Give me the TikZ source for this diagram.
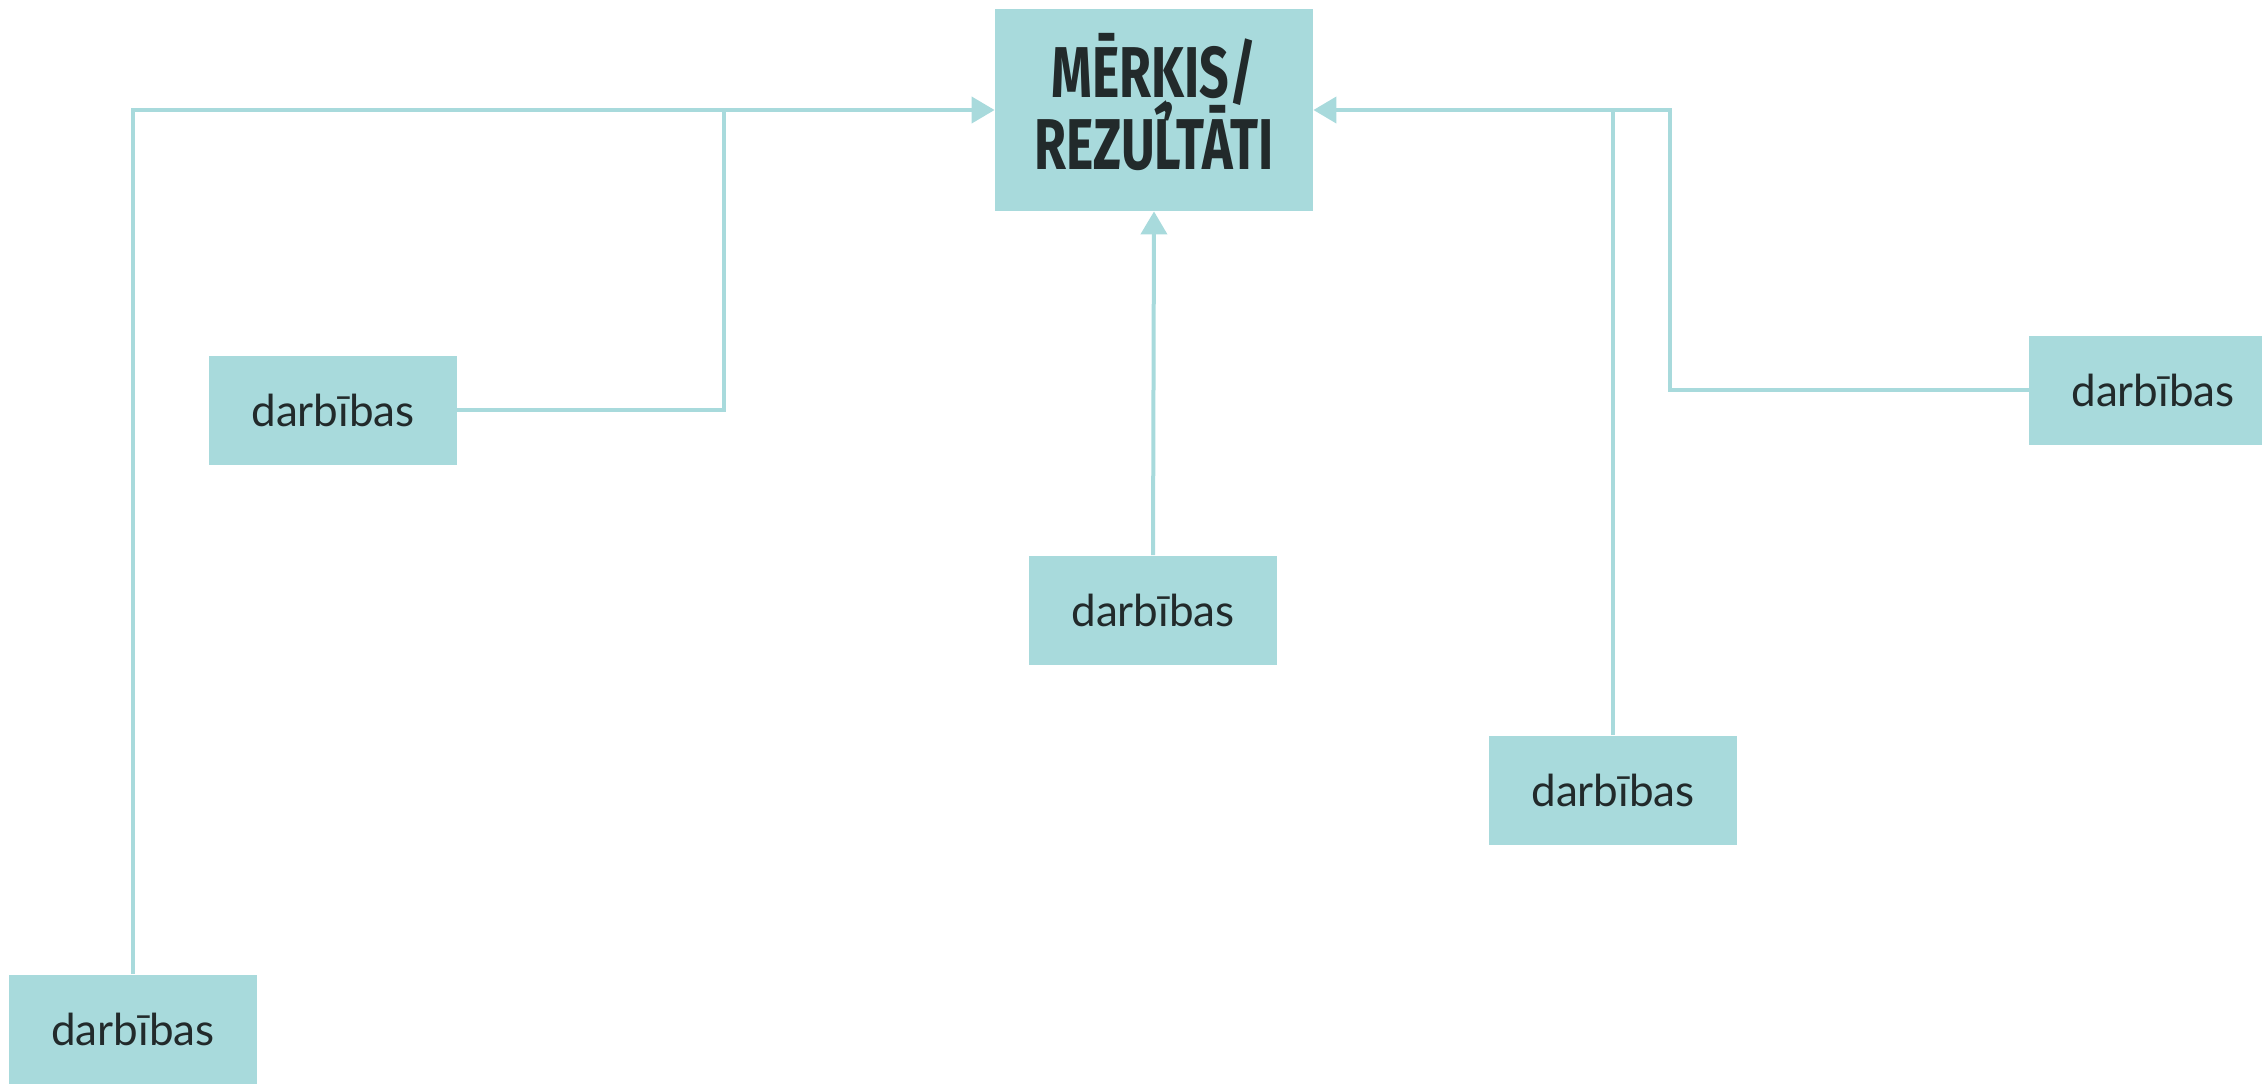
\documentclass[tikz,border=0pt]{standalone}
\usepackage{fontspec}
\usepackage{tikz}
\usetikzlibrary{arrows.meta}
\setmainfont{Lato}
\newfontfamily\goalfont[FakeStretch=0.72]{Fira Sans}
\newcommand\goalsize{\fontsize{36}{36}\selectfont\lineskiplimit=-100pt\relax}
\definecolor{ColBox}{RGB}{168,218,220}
\definecolor{ColText}{RGB}{34,42,43}
\tikzstyle{NodeAct}=[rectangle,fill=ColBox,inner sep=0pt,minimum width=124pt,minimum height=54.5pt,
text=ColText,font=\fontsize{22}{26}\selectfont]
\tikzstyle{NodeGoal}=[rectangle,fill=ColBox,inner sep=0pt,minimum width=159pt,minimum height=101pt,
text=ColText,align=center,font=\goalfont\bfseries\goalsize]
\tikzstyle{EdgeLink}=[ColBox,line width=2pt]
\tikzstyle{EdgeArrow}=[EdgeLink,-{Triangle[length=11.5pt,width=13pt]}]

\begin{document}
\begin{tikzpicture}[x=0.5pt,y=-0.5pt]
        \useasboundingbox(0,0)rectangle(2262,1083);
        \node[NodeGoal](goal)at(1154,110){MĒRĶIS/\\REZUĹTĀTI\rule[-9pt]{0pt}{0pt}};
        \node[NodeAct](actA)at(133,1029){darbības};
        \node[NodeAct](actB)at(333,410){darbības};
        \node[NodeAct](actC)at(1153,610){darbības};
        \node[NodeAct](actD)at(1613,790){darbības};
        \node[NodeAct](actE)at(2153,390){darbības};
        \coordinate(joinL)at(724,110);
        \coordinate(joinR)at(1670,110);
        \draw[EdgeArrow](actA.north)|-(goal.west);
        \draw[EdgeLink](actB.east)-|(joinL);
        \draw[EdgeArrow](actC.north)--(goal.south);
        \draw[EdgeLink](actD.north)--(actD.north|-goal.east);
        \draw[EdgeArrow](actE.west)-|(joinR)--(goal.east);
    \end{tikzpicture}
\end{document}
